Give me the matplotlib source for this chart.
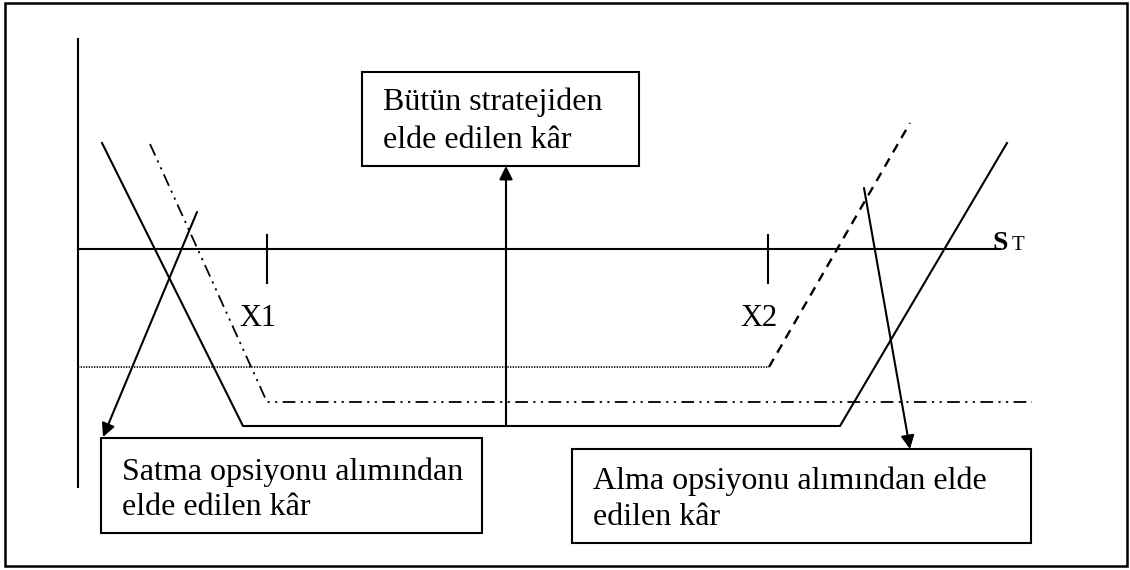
import matplotlib.pyplot as plt
from matplotlib.patches import Rectangle

plt.rcParams['font.family'] = ['Liberation Serif', 'DejaVu Serif']

# payoff diagram (S_T on x, profit on y), arbitrary units
strike_labels = ['X1', 'X2']
strikes = [18.9, 69.0]

put_x = [7.2, 18.9, 95.4]          # satma opsiyonu (dash-dot-dot)
put_y = [10.5, -15.3, -15.3]

call_flat_x = [0.0, 69.1]          # alma opsiyonu, flat part (dotted)
call_flat_y = [-11.8, -11.8]
call_rise_x = [69.1, 83.2]         # alma opsiyonu, rising part (dashed)
call_rise_y = [-11.8, 12.6]

strat_x = [2.4, 16.5, 76.2, 92.9]  # butun strateji (solid)
strat_y = [10.6, -17.7, -17.7, 10.6]

box_lines = [['Bütün stratejiden', 'elde edilen kâr'],
             ['Satma opsiyonu alımından', 'elde edilen kâr'],
             ['Alma opsiyonu alımından elde', 'edilen kâr']]

fig = plt.figure(figsize=(11.3, 5.7), dpi=100)
ax = fig.add_axes([0, 0, 1, 1])
ax.set_xlim(-7.8, 105.2)
ax.set_ylim(-32.1, 24.9)
ax.axis('off')

lw = 1.5

# outer frame
ax.add_patch(Rectangle((-7.3, -31.7), 112.2, 56.3, fill=False, ec='black', lw=1.8))

# axes
ax.plot([0, 0], [21.0, -23.8], color='black', lw=lw)
ax.plot([0, 92.2], [0, 0], color='black', lw=lw)
ax.text(91.4, -0.1, 'S', fontsize=20, fontweight='bold', va='baseline', ha='left')
ax.text(93.4, -0.1, 'T', fontsize=15, va='baseline', ha='left')

for s, lab in zip(strikes, strike_labels):
    ax.plot([s, s], [1.4, -3.4], color='black', lw=lw)
    ax.text(s - 2.8, -6.9, lab, fontsize=22, va='center', ha='left')

# payoff lines
ax.plot(put_x, put_y, color='black', lw=1.3, dashes=(7, 3, 1.2, 3, 1.2, 3))
ax.plot(call_flat_x, call_flat_y, color='black', lw=1.2, dashes=(0.8, 0.8))
ax.plot(call_rise_x, call_rise_y, color='black', lw=1.7, dashes=(4, 3))
ax.plot(strat_x, strat_y, color='black', lw=lw)

# label boxes: (left, bottom, width, height), baselines of the two lines
boxes = [(28.4, 8.3, 27.7, 9.4), (2.3, -28.4, 38.1, 9.5), (49.4, -29.4, 45.9, 9.4)]
baselines = [(13.9, 10.1), (-23.1, -26.6), (-24.0, -27.6)]
for (bx, by, bw, bh), lines, bl in zip(boxes, box_lines, baselines):
    ax.add_patch(Rectangle((bx, by), bw, bh, fill=False, ec='black', lw=1.5))
    for txt, yb in zip(lines, bl):
        ax.text(bx + 2.1, yb, txt, fontsize=23, va='baseline', ha='left')

# arrows
arrows = [((42.8, -17.7), (42.8, 8.3)),
          ((11.9, 3.7), (2.5, -18.8)),
          ((78.6, 6.1), (83.2, -20.0))]
for start, tip in arrows:
    ax.annotate('', xy=tip, xytext=start,
                arrowprops=dict(arrowstyle='-|>', color='black', lw=1.5,
                                mutation_scale=20, shrinkA=0, shrinkB=0))

fig.savefig('out.png', dpi=100)
